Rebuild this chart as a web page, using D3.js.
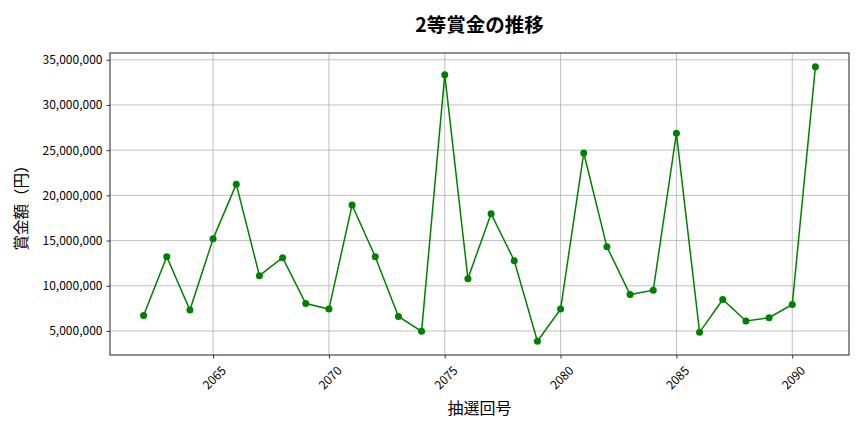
<!DOCTYPE html>
<html lang="ja">
<head>
<meta charset="utf-8" />
<script src="https://cdnjs.cloudflare.com/ajax/libs/d3/7.8.5/d3.min.js"></script>
<style>
  body { margin: 0; background: #fff; }
  svg text { font-family: "Noto Sans CJK JP", "DejaVu Sans", sans-serif; fill: #000; }
</style>
</head>
<body>
<div id="chart"></div>
<script>
// draw numbers (抽選回号) and 2nd prize amounts (円)
const draws = [2062, 2063, 2064, 2065, 2066, 2067, 2068, 2069, 2070, 2071,
               2072, 2073, 2074, 2075, 2076, 2077, 2078, 2079, 2080, 2081,
               2082, 2083, 2084, 2085, 2086, 2087, 2088, 2089, 2090, 2091];
const prizes = [6720000, 13210000, 7310000, 15190000, 21240000, 11120000, 13100000, 8040000, 7420000, 18930000,
                13210000, 6610000, 4960000, 33350000, 10790000, 17980000, 12770000, 3860000, 7420000, 24690000,
                14310000, 9030000, 9510000, 26860000, 4850000, 8480000, 6100000, 6470000, 7930000, 34230000];
const xTicks = [2065, 2070, 2075, 2080, 2085, 2090];
const yTicks = [5000000, 10000000, 15000000, 20000000, 25000000, 30000000, 35000000];

const width = 864, height = 432;
const margin = { top: 53, right: 15, bottom: 77, left: 110 };
const w = width - margin.left - margin.right;
const h = height - margin.top - margin.bottom;

const data = draws.map((d, i) => ({ draw: d, prize: prizes[i] }));

// matplotlib-like 5% padding
const [xmin, xmax] = d3.extent(draws);
const xpad = (xmax - xmin) * 0.05;
const [ymin, ymax] = d3.extent(prizes);
const ypad = (ymax - ymin) * 0.05;

const x = d3.scaleLinear().domain([xmin - xpad, xmax + xpad]).range([0, w]);
const y = d3.scaleLinear().domain([ymin - ypad, ymax + ypad]).range([h, 0]);

const svg = d3.select('#chart').append('svg')
  .attr('width', width).attr('height', height);
const g = svg.append('g').attr('transform', `translate(${margin.left},${margin.top})`);

// grid
g.append('g').selectAll('line').data(xTicks).enter().append('line')
  .attr('x1', d => x(d)).attr('x2', d => x(d)).attr('y1', 0).attr('y2', h)
  .attr('stroke', '#b0b0b0').attr('stroke-width', 0.8);
g.append('g').selectAll('line').data(yTicks).enter().append('line')
  .attr('x1', 0).attr('x2', w).attr('y1', d => y(d)).attr('y2', d => y(d))
  .attr('stroke', '#b0b0b0').attr('stroke-width', 0.8);

// axes
const xAxis = g.append('g').attr('transform', `translate(0,${h})`)
  .call(d3.axisBottom(x).tickValues(xTicks).tickFormat(d3.format('d')).tickSize(3.5).tickPadding(3));
// rotated labels, centred under the tick like matplotlib rotation=45
xAxis.selectAll('text')
  .attr('font-size', 12)
  .attr('text-anchor', 'middle')
  .attr('dominant-baseline', 'central')
  .attr('y', 22).attr('dy', null)
  .attr('transform', 'rotate(-45, 0, 22)');

const yAxis = g.append('g')
  .call(d3.axisLeft(y).tickValues(yTicks).tickFormat(d3.format(',')).tickSize(3.5).tickPadding(4));
yAxis.selectAll('text').attr('font-size', 12);

[xAxis, yAxis].forEach(a => {
  a.select('.domain').remove();
  a.selectAll('line').attr('stroke', '#000').attr('stroke-width', 0.8);
});

// frame
g.append('rect').attr('width', w).attr('height', h)
  .attr('fill', 'none').attr('stroke', '#222').attr('stroke-width', 1);

// line + markers
const line = d3.line().x(d => x(d.draw)).y(d => y(d.prize));
g.append('path').datum(data).attr('d', line)
  .attr('fill', 'none').attr('stroke', 'green').attr('stroke-width', 1.5);
g.selectAll('circle').data(data).enter().append('circle')
  .attr('cx', d => x(d.draw)).attr('cy', d => y(d.prize)).attr('r', 3.5)
  .attr('fill', 'green');

// titles
svg.append('text').attr('x', margin.left + w / 2).attr('y', 32)
  .attr('text-anchor', 'middle').attr('font-size', 19.5).attr('font-weight', 'bold')
  .text('2等賞金の推移');
svg.append('text').attr('x', margin.left + w / 2).attr('y', 414)
  .attr('text-anchor', 'middle').attr('font-size', 16)
  .text('抽選回号');
svg.append('text')
  .attr('transform', `translate(27,${margin.top + h / 2}) rotate(-90)`)
  .attr('text-anchor', 'middle').attr('font-size', 15.5)
  .text('賞金額（円）');
</script>
</body>
</html>
